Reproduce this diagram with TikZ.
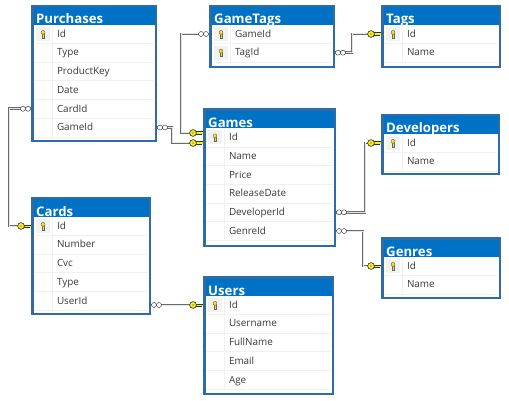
\documentclass[tikz,border=0pt]{standalone}
\usepackage{fontspec}
\setmainfont{Open Sans}
\usetikzlibrary{positioning}

\definecolor{headblue}{HTML}{0072C6}
\definecolor{edgeblue}{HTML}{2F6CA6}
\definecolor{rowline}{HTML}{F1F1F1}
\definecolor{fieldtext}{HTML}{3A3A3A}
\definecolor{keyyellow}{HTML}{F4F020}

\tikzset{
  tablebox/.style={draw=edgeblue,fill=headblue,line width=2.5pt,inner sep=0,outer sep=0,anchor=north west},
  tablehead/.style={text=white,font=\fontsize{13.2}{14}\selectfont\bfseries,inner sep=0,anchor=base west},
  tablepanel/.style={fill=white,inner sep=0,outer sep=0,anchor=north west},
  tablerow/.style={inner sep=0,outer sep=0,anchor=west,align=left,text=fieldtext,minimum height=18.7pt,
    text height=8pt,text depth=1.5pt,font=\fontsize{9.9}{12}\selectfont},
  fkline/.style={draw=black!58,line width=.9pt,double=black!10,double distance=1pt},
  manyend/.pic={
    \draw[black!85,fill=white,line width=.4pt] (3,0) circle (2.5);
    \draw[black!85,fill=white,line width=.4pt] (8,0) circle (2.5);
  },
  fkkey/.pic={
    \fill[keyyellow] (-9,-1.3) rectangle (0,1.3);
    \draw[black!80,line width=.4pt] (-7,-1.3) -- (0,-1.3) (-7,1.3) -- (-1,1.3);
    \draw[black!85,fill=keyyellow,line width=.6pt] (-10,0) circle (3.4);
    \fill[black!85] (-10,0) circle (.7);
  },
  rowkey/.pic={
    \fill[black!5] (-7,-7) rectangle (7,7);
    \draw[black!60,fill=keyyellow!85!orange,line width=.35pt] (-.7,-.5) rectangle (.7,3.8);
    \draw[black!60,fill=keyyellow!85!orange,line width=.45pt] (0,-1.6) circle (2);
  }
}

% name, title, x, y, width, height, key rows, fields
\newcommand{\dbtable}[8]{
  \node[tablebox,minimum width=#5pt-2.5pt,minimum height=#6pt-2.5pt] (#1) at (#3+1.25,#4+1.25) {};
  \node[tablehead] (#1-title) at (#3+5,#4+19) {#2};
  \node[tablepanel,minimum width=#5pt-5pt,minimum height=#6pt-22pt] (#1-panel) at (#3+2.5,#4+19.6) {};
  \foreach \fld [count=\n] in {#8} {
    \pgfmathsetmacro{\rowy}{#4+29+18.7*(\n-1)}
    \node[tablerow,text width=#5pt] (#1-\n) at (#3,\rowy) {\hspace*{26pt}\fld};
    \draw[rowline,line width=.6pt] (#3+3,\rowy+9.35) -- (#3+#5-3,\rowy+9.35);
    \ifnum\n>#7\else
      \path (#3+12,\rowy) pic {rowkey};
    \fi
    \draw[rowline,line width=.6pt] (#3+21,\rowy-9.35) -- (#3+21,\rowy+9.35);
  }
}

\begin{document}
\begin{tikzpicture}[x=1pt,y=-1pt]
\useasboundingbox (0,0) rectangle (509,401);

\dbtable{purchases}{Purchases}{31}{5}{126}{137}{1}{Id,Type,ProductKey,Date,CardId,GameId}
\dbtable{gametags}{GameTags}{209}{5}{126}{63}{2}{GameId,TagId}
\dbtable{tags}{Tags}{381}{5}{120}{63}{1}{Id,Name}
\dbtable{games}{Games}{203}{108.5}{133}{138.5}{1}{Id,Name,Price,ReleaseDate,DeveloperId,GenreId}
\dbtable{developers}{Developers}{381}{114}{119}{61}{1}{Id,Name}
\dbtable{genres}{Genres}{381}{237}{120}{62}{1}{Id,Name}
\dbtable{cards}{Cards}{31}{197}{120}{118}{1}{Id,Number,Cvc,Type,UserId}
\dbtable{users}{Users}{203}{276}{131}{119}{1}{Id,Username,FullName,Email,Age}

% links
\coordinate (gamesIn1) at ([yshift=4.5pt]games-1.west);
\coordinate (gamesIn2) at ([yshift=-5.5pt]games-1.west);
\coordinate (cardsOut) at (cards-5.east |- users-1.west);

\draw[fkline] (purchases-5.west) -- ++(-22,0) |- (cards-1.west);
\draw[fkline] (purchases-6.east) -- ++(15,0) |- (gamesIn2);
\draw[fkline] (gametags-1.west) -- ++(-28,0) |- (gamesIn1);
\draw[fkline] (gametags-2.east) -- ++(17,0) |- (tags-1.west);
\draw[fkline] (games-5.east) -- ++(29,0) |- (developers-1.west);
\draw[fkline] (games-6.east) -- ++(27,0) |- (genres-1.west);
\draw[fkline] (cardsOut) -- (users-1.west);

\path (purchases-5.west) pic[xscale=-1] {manyend} (gametags-1.west) pic[xscale=-1] {manyend};
\foreach \src in {purchases-6.east,gametags-2.east,games-5.east,games-6.east,cardsOut}
  \path (\src) pic {manyend};
\foreach \tgt in {cards-1.west,gamesIn1,gamesIn2,tags-1.west,developers-1.west,genres-1.west,users-1.west}
  \path (\tgt) pic {fkkey};

\end{tikzpicture}
\end{document}
